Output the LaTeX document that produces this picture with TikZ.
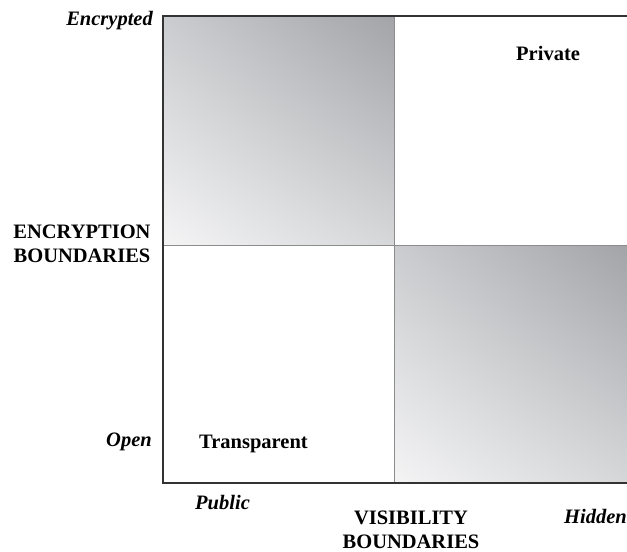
\documentclass[tikz,border=0pt]{standalone}
\usepackage{fontspec}
\setmainfont{Liberation Serif}
\usetikzlibrary{shadings}
\definecolor{qll}{RGB}{244,244,245}
\definecolor{qur}{RGB}{163,164,168}
\definecolor{qul}{RGB}{203,204,207}
\definecolor{qlr}{RGB}{214,215,217}
\begin{document}
\begin{tikzpicture}[x=1bp,y=-1bp,
  lbl/.style={inner sep=0pt,font=\fontsize{20.5bp}{24.5bp}\selectfont\bfseries},
  ilbl/.style={lbl,font=\fontsize{20.5bp}{24.5bp}\selectfont\bfseries\itshape},
  frame/.style={draw=black!80,line width=1.4bp},
  divider/.style={draw=black!45,line width=1bp},
  quad/.style={lower left=qll,upper right=qur,upper left=qul,lower right=qlr}]
\useasboundingbox (0,0) rectangle (627,552);
% shaded quadrants
\shade[quad] (163,16) rectangle (394,245);
\shade[quad] (394,245) rectangle (627,483);
% coordinates
\coordinate (tl) at (163,16);
\coordinate (tr) at (627,16);
\coordinate (bl) at (163,483);
\coordinate (br) at (627,483);
\coordinate (mt) at (394,16);
\coordinate (mb) at (394,483);
\coordinate (ml) at (163,245);
\coordinate (mr) at (627,245);
% dividers
\draw[divider] (mt) -- (mb);
\draw[divider] (ml) -- (mr);
% frame
\draw[frame] (tr) -- (tl) -- (bl) -- (br);
% labels
\node[ilbl,anchor=base east] (enc) at (153,26) {Encrypted};
\node[ilbl,anchor=base east] (open) at (152,446) {Open};
\node[lbl,align=center,anchor=center] (eb) at (82,244) {ENCRYPTION\\BOUNDARIES};
\node[lbl,anchor=base west] (priv) at (516,61) {Private};
\node[lbl,anchor=base west] (trans) at (199,448) {Transparent};
\node[ilbl,anchor=base west] (pub) at (195,509) {Public};
\node[ilbl,anchor=base east] (hid) at (627,523) {Hidden};
\node[lbl,align=center,anchor=center] (vb) at (411,530) {VISIBILITY\\BOUNDARIES};
\end{tikzpicture}
\end{document}
